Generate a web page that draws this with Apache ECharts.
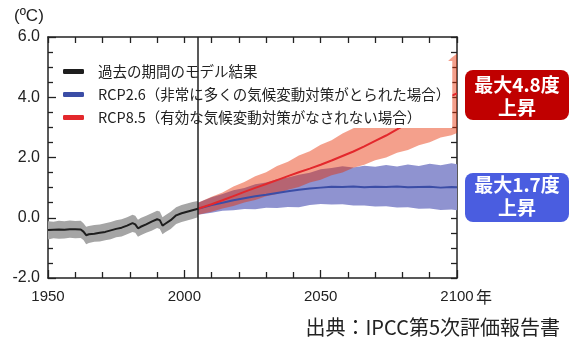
<!DOCTYPE html>
<html>
<head>
<meta charset="utf-8">
<script src="https://cdn.jsdelivr.net/npm/echarts@6/dist/echarts.min.js"></script>
<style>
  html, body { margin: 0; padding: 0; background: #fff; }
  #main { width: 570px; height: 341px; }
</style>
</head>
<body>
<div id="main"></div>
<script>
// 過去（モデル）
var histYears = [1950,1952,1954,1956,1958,1960,1962,1963,1964,1965,1967,1969,1971,1973,1975,1977,1979,1981,1982,1983,1984,1986,1988,1990,1991,1992,1993,1995,1997,1999,2001,2003,2005];
var histMean = [-0.41,-0.40,-0.39,-0.40,-0.38,-0.38,-0.39,-0.46,-0.58,-0.55,-0.53,-0.50,-0.47,-0.42,-0.37,-0.33,-0.26,-0.18,-0.22,-0.35,-0.30,-0.22,-0.13,-0.05,-0.08,-0.26,-0.20,-0.08,0.08,0.15,0.20,0.25,0.30];
var histLow = [-0.72,-0.68,-0.70,-0.69,-0.66,-0.68,-0.67,-0.74,-0.88,-0.84,-0.80,-0.79,-0.75,-0.71,-0.65,-0.62,-0.55,-0.47,-0.50,-0.63,-0.58,-0.50,-0.43,-0.34,-0.37,-0.55,-0.48,-0.37,-0.21,-0.14,-0.09,-0.04,0.02];
var histHigh = [-0.12,-0.13,-0.10,-0.12,-0.09,-0.11,-0.10,-0.18,-0.30,-0.27,-0.24,-0.22,-0.18,-0.14,-0.08,-0.05,0.02,0.10,0.07,-0.07,-0.01,0.07,0.15,0.23,0.21,0.02,0.08,0.20,0.35,0.42,0.47,0.52,0.56];

// 将来予測
var projYears = [2005,2010,2014,2018,2022,2026,2030,2034,2038,2042,2046,2050,2054,2058,2062,2066,2070,2074,2078,2082,2086,2090,2094,2098,2100];
var rcp85Mean = [0.30,0.45,0.58,0.72,0.86,0.99,1.12,1.25,1.38,1.51,1.63,1.76,1.90,2.05,2.20,2.37,2.55,2.73,2.93,3.14,3.36,3.60,3.84,4.05,4.13];
var rcp85Low = [0.10,0.20,0.31,0.39,0.51,0.59,0.71,0.79,0.93,1.02,1.17,1.26,1.41,1.50,1.66,1.76,1.91,2.00,2.16,2.25,2.41,2.51,2.66,2.74,2.81];
var rcp85High = [0.50,0.70,0.84,1.04,1.19,1.38,1.51,1.72,1.86,2.07,2.21,2.42,2.57,2.80,2.97,3.22,3.41,3.67,3.89,4.17,4.41,4.72,4.97,5.31,5.45];
var rcp26Mean = [0.30,0.42,0.50,0.58,0.65,0.71,0.76,0.82,0.88,0.93,0.97,1.00,1.03,1.02,1.04,1.01,1.03,1.02,1.04,1.01,1.02,1.03,1.00,1.02,1.01];
var rcp26Low = [0.10,0.17,0.23,0.25,0.29,0.28,0.33,0.32,0.36,0.35,0.42,0.46,0.44,0.45,0.41,0.41,0.37,0.38,0.34,0.35,0.30,0.31,0.26,0.27,0.25];
var rcp26High = [0.50,0.68,0.79,0.91,0.99,1.11,1.17,1.28,1.34,1.43,1.49,1.61,1.65,1.71,1.67,1.73,1.69,1.75,1.70,1.77,1.72,1.79,1.74,1.81,1.78];

var splitYear = 2005;

var nameHist = '過去の期間のモデル結果';
var name26 = 'RCP2.6（非常に多くの気候変動対策がとられた場合）';
var name85 = 'RCP8.5（有効な気候変動対策がなされない場合）';

function pairs(xs, ys) {
  return xs.map(function (x, i) { return [x, ys[i]]; });
}

// 幅のある帯 (polygon)
function band(name, xs, lo, hi, fill) {
  return {
    type: 'custom',
    name: name,
    data: xs.map(function (x, i) { return [x, lo[i], hi[i]]; }),
    encode: { x: 0, y: [1, 2] },
    renderItem: function (params, api) {
      if (params.dataIndex !== 0) return null;
      var pts = [];
      for (var i = 0; i < xs.length; i++) pts.push(api.coord([xs[i], hi[i]]));
      for (var j = xs.length - 1; j >= 0; j--) pts.push(api.coord([xs[j], lo[j]]));
      return { type: 'polygon', shape: { points: pts }, style: { fill: fill } };
    }
  };
}

function line(name, xs, ys, color, w) {
  return {
    type: 'line',
    name: name,
    data: pairs(xs, ys),
    color: color,
    symbol: 'none',
    lineStyle: { color: color, width: w }
  };
}

var chart = echarts.init(document.getElementById('main'));

var histLine = line(nameHist, histYears, histMean, '#1e1e1e', 2);
histLine.markLine = {
  silent: true, symbol: 'none', animation: false,
  label: { show: false },
  lineStyle: { color: '#222', width: 1.5, type: 'solid' },
  data: [{ xAxis: splitYear }]
};

chart.setOption({
  animation: false,
  grid: { left: 48, right: 113, top: 37, bottom: 63 },
  xAxis: [{ type: 'value', min: 1950, max: 2100, interval: 50,
    axisLine: { show: true, onZero: false, lineStyle: { color: '#222', width: 1.5 } },
    axisTick: { show: true, inside: true, length: 8, lineStyle: { color: '#222', width: 1.3 } },
    minorTick: { show: true, splitNumber: 5, length: 6, lineStyle: { color: '#222', width: 1.3 } },
    axisLabel: { color: '#222', fontSize: 15, fontFamily: 'Liberation Sans', margin: 11,
      formatter: function (v) { return String(v); } },
    splitLine: { show: false } },
    { type: 'value', position: 'top', min: 1950, max: 2100, interval: 10,
    axisLine: { show: true, onZero: false, lineStyle: { color: '#222', width: 1.5 } },
    axisTick: { show: true, inside: true, length: 6, lineStyle: { color: '#222', width: 1.3 } },
    axisLabel: { show: false }, splitLine: { show: false } }],
  yAxis: [{ type: 'value', min: -2, max: 6, interval: 2,
    axisLine: { show: true, lineStyle: { color: '#222', width: 1.5 } },
    axisTick: { show: true, inside: true, length: 8, lineStyle: { color: '#222', width: 1.3 } },
    minorTick: { show: true, splitNumber: 4, length: 5, lineStyle: { color: '#222', width: 1.3 } },
    axisLabel: { color: '#222', fontSize: 16, fontFamily: 'Liberation Sans', margin: 8,
      formatter: function (v) { return v.toFixed(1); } },
    splitLine: { show: false } },
    { type: 'value', position: 'right', min: -2, max: 6, interval: 0.5,
    axisLine: { show: true, lineStyle: { color: '#222', width: 1.5 } },
    axisTick: { show: true, inside: true, length: 6, lineStyle: { color: '#222', width: 1.3 } },
    axisLabel: { show: false }, splitLine: { show: false } }],
  legend: {
    data: [nameHist, name26, name85],
    orient: 'vertical',
    left: 58, top: 61,
    padding: [2, 2, 2, 5],
    itemGap: 6,
    itemWidth: 21, itemHeight: 5,
    icon: 'roundRect',
    backgroundColor: '#fff',
    textStyle: { fontSize: 14.5, fontFamily: 'Noto Sans CJK JP', color: '#222', lineHeight: 17, padding: [0, 0, 0, 9] }
  },
  series: [
    band('histBand', histYears, histLow, histHigh, '#a5a5a5'),
    band('rcp26Band', projYears, rcp26Low, rcp26High, '#8f93d0'),
    band('rcp85Band', projYears, rcp85Low, rcp85High, 'rgba(231,44,0,0.45)'),
    line(name26, projYears, rcp26Mean, '#3b4da6', 2),
    line(name85, projYears, rcp85Mean, '#e3282c', 2),
    histLine
  ],
  graphic: [
    { type: 'text', left: 14, top: 8, style: { text: '(ºC)', fontSize: 17, fontFamily: 'Liberation Sans', fill: '#222' } },
    { type: 'text', left: 476, top: 289, style: { text: '年', fontSize: 16, fontFamily: 'Noto Sans CJK JP', fill: '#222' } },
    { type: 'text', right: 10, top: 317, style: { text: '出典：IPCC第5次評価報告書', fontSize: 20, fontFamily: 'Noto Sans CJK JP', fill: '#222' } },
    { type: 'group', left: 465, top: 70, children: [
      { type: 'rect', shape: { x: 0, y: 0, width: 104, height: 50, r: 8 }, style: { fill: '#c00000' } },
      { type: 'text', x: 52, y: 15, style: { text: '最大4.8度', fontSize: 19, fontWeight: 'bold', fontFamily: 'Noto Sans CJK JP', fill: '#fff', align: 'center', verticalAlign: 'middle' } },
      { type: 'text', x: 52, y: 38, style: { text: '上昇', fontSize: 19, fontWeight: 'bold', fontFamily: 'Noto Sans CJK JP', fill: '#fff', align: 'center', verticalAlign: 'middle' } }
    ] },
    { type: 'group', left: 465, top: 173, children: [
      { type: 'rect', shape: { x: 0, y: 0, width: 104, height: 49, r: 8 }, style: { fill: '#4a5de0' } },
      { type: 'text', x: 52, y: 12, style: { text: '最大1.7度', fontSize: 19, fontWeight: 'bold', fontFamily: 'Noto Sans CJK JP', fill: '#fff', align: 'center', verticalAlign: 'middle' } },
      { type: 'text', x: 52, y: 35, style: { text: '上昇', fontSize: 19, fontWeight: 'bold', fontFamily: 'Noto Sans CJK JP', fill: '#fff', align: 'center', verticalAlign: 'middle' } }
    ] }
  ]
});
</script>
</body>
</html>
